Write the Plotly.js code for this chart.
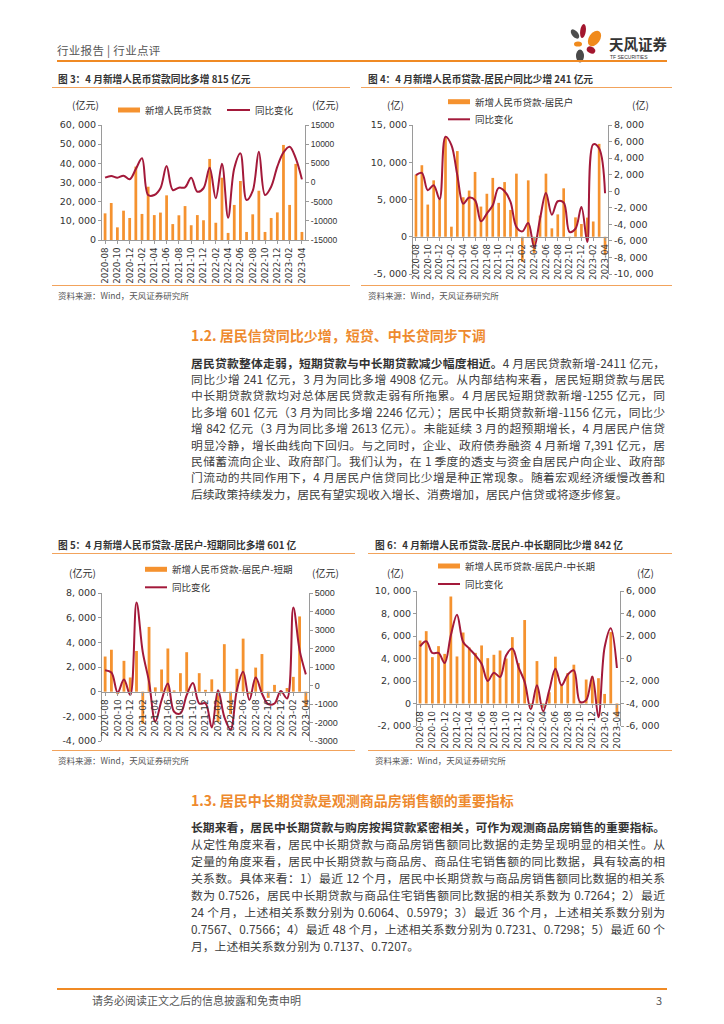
<!DOCTYPE html>
<html><head><meta charset="utf-8">
<script src="https://cdn.plot.ly/plotly-3.0.1.min.js"></script>
<style>
body{margin:0;background:#fff;}
#page{position:relative;width:724px;height:1024px;overflow:hidden;font-family:"Noto Sans CJK SC",sans-serif;background:#fff;}
.rule{position:absolute;height:0;border-top:1px solid #F2A35C;}
.bigrule{position:absolute;height:0;border-top:2px solid #F08A24;}
.ctitle{position:absolute;font-size:9.7px;font-weight:bold;color:#333;white-space:nowrap;line-height:12px;}
.src{position:absolute;font-size:8.5px;color:#555;white-space:nowrap;line-height:10px;}
.h2{position:absolute;left:191px;font-size:14px;font-weight:bold;color:#EE8A2E;white-space:nowrap;line-height:18px;}
.ln{position:absolute;left:191px;width:474px;font-size:11.8px;color:#404040;white-space:nowrap;text-align:justify;text-align-last:justify;line-height:14px;}
.ln.last{text-align-last:left;}
.ln b{color:#333;font-weight:700;}
.plot{position:absolute;}
</style></head>
<body><div id="page">
<svg style="position:absolute;left:0;top:0" width="724" height="70">
  <ellipse cx="583" cy="31" rx="2.8" ry="7" fill="#A3162E" transform="rotate(8 583 31)"/>
  <ellipse cx="594.5" cy="38.5" rx="5.5" ry="8.5" fill="#F08A1C" transform="rotate(35 594.5 38.5)"/>
  <ellipse cx="575" cy="34" rx="3" ry="5.5" fill="#4D4D4D" transform="rotate(-40 575 34)"/>
  <ellipse cx="578" cy="44" rx="4" ry="2.6" fill="#F08A1C"/>
  <ellipse cx="591" cy="50" rx="4.5" ry="3.3" fill="#A3162E" transform="rotate(30 591 50)"/>
  <ellipse cx="580" cy="56" rx="4" ry="6.5" fill="#4A4A4A"/>
  <text x="609" y="50" font-size="14.5" font-weight="bold" fill="#333" font-family="Noto Sans CJK SC">天风证券</text>
  <text x="610" y="58.5" font-size="5" fill="#333" font-family="Liberation Sans">TF SECURITIES</text>
</svg>
<div style="position:absolute;left:57px;top:43px;font-size:11.5px;color:#555;line-height:15px;white-space:nowrap;letter-spacing:0.3px;">行业报告 | 行业点评</div>
<div class="bigrule" style="left:57px;top:60px;width:610px;"></div>

<div class="ctitle" style="left:58px;top:73px;">图 3：4 月新增人民币贷款同比多增 815 亿元</div>
<div class="rule" style="left:52px;top:87px;width:298px;"></div>
<div class="rule" style="left:52px;top:285px;width:298px;"></div>
<div class="src" style="left:58px;top:290px;">资料来源：Wind，天风证券研究所</div>

<div class="ctitle" style="left:368px;top:73px;">图 4：4 月新增人民币贷款-居民户同比少增 241 亿元</div>
<div class="rule" style="left:361px;top:87px;width:311px;"></div>
<div class="rule" style="left:361px;top:285px;width:311px;"></div>
<div class="src" style="left:368px;top:290px;">资料来源：Wind，天风证券研究所</div>

<div class="h2" style="top:326px;">1.2. 居民信贷同比少增，短贷、中长贷同步下调</div>
<div class="ln" style="top:355.7px;"><b>居民贷款整体走弱，短期贷款与中长期贷款减少幅度相近。</b>4 月居民贷款新增-2411 亿元，</div>
<div class="ln" style="top:372.1px;">同比少增 241 亿元，3 月为同比多增 4908 亿元。从内部结构来看，居民短期贷款与居民</div>
<div class="ln" style="top:388.4px;">中长期贷款贷款均对总体居民贷款走弱有所拖累。4 月居民短期贷款新增-1255 亿元，同</div>
<div class="ln" style="top:404.8px;">比多增 601 亿元（3 月为同比多增 2246 亿元）；居民中长期贷款新增-1156 亿元，同比少</div>
<div class="ln" style="top:421.1px;">增 842 亿元（3 月为同比多增 2613 亿元）。未能延续 3 月的超预期增长，4 月居民户信贷</div>
<div class="ln" style="top:437.5px;">明显冷静，增长曲线向下回归。与之同时，企业、政府债券融资 4 月新增 7,391 亿元，居</div>
<div class="ln" style="top:453.8px;">民储蓄流向企业、政府部门。我们认为，在 1 季度的透支与资金自居民户向企业、政府部</div>
<div class="ln" style="top:470.2px;">门流动的共同作用下，4 月居民户信贷同比少增是种正常现象。随着宏观经济缓慢改善和</div>
<div class="ln last" style="top:486.5px;">后续政策持续发力，居民有望实现收入增长、消费增加，居民户信贷或将逐步修复。</div>

<div class="ctitle" style="left:58px;top:539px;">图 5：4 月新增人民币贷款-居民户-短期同比多增 601 亿</div>
<div class="rule" style="left:52px;top:553px;width:303px;"></div>
<div class="rule" style="left:52px;top:750px;width:303px;"></div>
<div class="src" style="left:58px;top:755px;">资料来源：Wind，天风证券研究所</div>

<div class="ctitle" style="left:375px;top:539px;">图 6：4 月新增人民币贷款-居民户-中长期同比少增 842 亿</div>
<div class="rule" style="left:368px;top:553px;width:304px;"></div>
<div class="rule" style="left:368px;top:750px;width:304px;"></div>
<div class="src" style="left:375px;top:755px;">资料来源：Wind，天风证券研究所</div>

<div class="h2" style="top:791px;">1.3. 居民中长期贷款是观测商品房销售额的重要指标</div>
<div class="ln" style="top:819.7px;letter-spacing:-0.15px;"><b>长期来看，居民中长期贷款与购房按揭贷款紧密相关，可作为观测商品房销售的重要指标。</b></div>
<div class="ln" style="top:836.8px;">从定性角度来看，居民中长期贷款与商品房销售额同比数据的走势呈现明显的相关性。从</div>
<div class="ln" style="top:853.9px;">定量的角度来看，居民中长期贷款与商品房、商品住宅销售额的同比数据，具有较高的相</div>
<div class="ln" style="top:871.0px;">关系数。具体来看：1）最近 12 个月，居民中长期贷款与商品房销售额同比数据的相关系</div>
<div class="ln" style="top:888.1px;">数为 0.7526，居民中长期贷款与商品住宅销售额同比数据的相关系数为 0.7264；2）最近</div>
<div class="ln" style="top:905.2px;">24 个月，上述相关系数分别为 0.6064、0.5979；3）最近 36 个月，上述相关系数分别为</div>
<div class="ln" style="top:922.3px;">0.7567、0.7566；4）最近 48 个月，上述相关系数分别为 0.7231、0.7298；5）最近 60 个</div>
<div class="ln last" style="top:939.4px;">月，上述相关系数分别为 0.7137、0.7207。</div>

<div class="bigrule" style="left:57px;top:988px;width:610px;"></div>
<div style="position:absolute;left:92px;top:993px;font-size:11px;color:#555;line-height:14px;white-space:nowrap;">请务必阅读正文之后的信息披露和免责申明</div>
<div style="position:absolute;left:656px;top:993px;font-size:11px;color:#555;line-height:14px;">3</div>

<div id="c3" class="plot"></div>
<div id="c4" class="plot"></div>
<div id="c5" class="plot"></div>
<div id="c6" class="plot"></div>
</div>
<script>
// ---------- data ----------
const months = ['2020-08','2020-09','2020-10','2020-11','2020-12','2021-01','2021-02','2021-03','2021-04','2021-05','2021-06','2021-07','2021-08','2021-09','2021-10','2021-11','2021-12','2022-01','2022-02','2022-03','2022-04','2022-05','2022-06','2022-07','2022-08','2022-09','2022-10','2022-11','2022-12','2023-01','2023-02','2023-03','2023-04'];
const monthTicks = ['2020-08','2020-10','2020-12','2021-02','2021-04','2021-06','2021-08','2021-10','2021-12','2022-02','2022-04','2022-06','2022-08','2022-10','2022-12','2023-02','2023-04'];

// Fig 3: new RMB loans (亿元) and YoY change
const loansTotal = [13900,19300,6600,15300,11500,38300,13600,27800,13000,14300,23300,8300,12900,17700,7700,13000,10300,42300,9000,32500,3700,18300,30800,4200,13400,25700,4200,11500,14400,49600,18300,39700,4200];
const loansTotalYoY = [1260,1700,1260,1780,830,3500,6300,-3260,-3260,-1500,4300,-1960,-1350,-1260,1260,-2400,-1500,3870,-4130,4900,-9170,3700,7600,-4570,-2200,8000,-3260,-1090,4130,7870,9350,6300,815];
// Fig 4: household loans
const loansHH = [8330,9600,4320,7570,5000,13400,1350,11500,5300,6200,8700,4050,5770,7900,4550,7340,3600,8470,-3369,7570,-2170,2840,8470,1130,3000,6500,-203,2600,1710,2570,2050,12470,-2411];
const loansHHYoY = [1940,2220,120,730,-970,6590,5580,1940,-1500,-770,-1090,-3640,-2700,-1700,400,0,-1290,-4320,-4850,-3840,-6750,-3310,-200,-2830,-1210,-1370,-4930,-4530,-1900,-6140,5660,5170,-241];
// Fig 5: household short-term
const loansShort = [2850,3400,-200,2500,1150,3300,-2600,5250,350,1800,3500,100,1500,3200,-50,1500,150,1000,-2460,3850,-1824,1850,4300,-200,1950,3050,-500,550,-150,300,1200,6100,-1255];
const loansShortYoY = [830,700,-380,320,-520,4490,1800,200,-1950,-800,110,-1420,-1510,-520,140,-970,-970,-2270,-250,-1700,-2380,-250,740,-790,430,-430,-1010,-970,-300,-700,4220,1910,601];
// Fig 6: household medium & long-term
const loansMid = [5600,6430,4120,5100,4410,9510,4180,6310,4980,4500,5160,4030,4330,4710,4000,5900,3590,7420,-459,3770,-417,1000,4160,1600,2700,3450,150,2130,2400,2250,850,6350,-1156];
const loansMidYoY = [1080,1530,490,490,-400,2060,3900,1470,880,280,-460,-2000,-1260,-1640,280,880,-760,-2080,-4510,-2380,-4690,-2830,-900,-2380,-1440,-1050,-3860,-3700,-1600,-5220,1000,2700,-842];

// tick values / labels
const c3LeftTicks = [0,10000,20000,30000,40000,50000,60000];
const c3LeftLabels = ['0','10, 000','20, 000','30, 000','40, 000','50, 000','60, 000'];
const c3RightTicks = [-15000,-10000,-5000,0,5000,10000,15000];
const c3RightLabels = ['-15000','-10000','-5000','0','5000','10000','15000'];
const c4LeftTicks = [-5000,0,5000,10000,15000];
const c4LeftLabels = ['-5, 000','0','5, 000','10, 000','15, 000'];
const c4RightTicks = [-10000,-8000,-6000,-4000,-2000,0,2000,4000,6000,8000];
const c4RightLabels = ['-10, 000','-8, 000','-6, 000','-4, 000','-2, 000','0','2, 000','4, 000','6, 000','8, 000'];
const c5LeftTicks = [-4000,-2000,0,2000,4000,6000,8000];
const c5LeftLabels = ['-4, 000','-2, 000','0','2, 000','4, 000','6, 000','8, 000'];
const c5RightTicks = [-3000,-2000,-1000,0,1000,2000,3000,4000,5000];
const c5RightLabels = ['-3000','-2000','-1000','0','1000','2000','3000','4000','5000'];
const c6LeftTicks = [-2000,0,2000,4000,6000,8000,10000];
const c6LeftLabels = ['-2, 000','0','2, 000','4, 000','6, 000','8, 000','10, 000'];
const c6RightTicks = [-6000,-4000,-2000,0,2000,4000,6000];
const c6RightLabels = ['-6, 000','-4, 000','-2, 000','0','2, 000','4, 000','6, 000'];

// ---------- drawing ----------
const BAR = '#F5922F', LINE = '#A3193A', AX = '#9A9A9A', TXT = '#333';
const CJK = 'Noto Sans CJK SC';

function drawChart(id, g, d) {
  const l = g.L - g.x, r = g.x + g.w - g.R, t = g.T - g.y, b = g.y + g.h - g.B;
  const px = X => (X - g.L) / (g.R - g.L);
  const py = Y => (g.B - Y) / (g.B - g.T);
  const el = document.getElementById(id);
  el.style.left = g.x + 'px'; el.style.top = g.y + 'px';
  el.style.width = g.w + 'px'; el.style.height = g.h + 'px';
  const traces = [
    {type:'bar', x: months, y: d.bars, name: d.barName, marker:{color: BAR}, yaxis:'y', hoverinfo:'skip'},
    {type:'scatter', mode:'lines', x: months, y: d.line, name:'同比变化',
     line:{color: LINE, width: 2, shape:'spline', smoothing: 1}, yaxis:'y2', cliponaxis:false}
  ];
  const xpos = (0 - d.yl[0]) / (d.yl[1] - d.yl[0]);
  const lf = {family:'DejaVu Sans', size:9.5, color:TXT};
  const lg = d.legend;
  const layout = {
    width: g.w, height: g.h, margin:{l:l, r:r, t:t, b:b, pad:0},
    paper_bgcolor:'rgba(0,0,0,0)', plot_bgcolor:'rgba(0,0,0,0)',
    showlegend:false, bargap:0.55,
    font:{family: CJK, color: TXT},
    xaxis:{type:'category', range:[-0.5, months.length - 0.5], tickmode:'array',
      tickvals: monthTicks, ticktext: monthTicks, tickangle:-90,
      tickfont:{family:'DejaVu Sans', size:d.xfs, color:TXT},
      showline:true, linecolor:AX, linewidth:1, ticks:'outside', ticklen:3, tickcolor:AX,
      showgrid:false, zeroline:false, automargin:false,
      anchor: xpos > 0 ? 'free' : 'y', position: xpos},
    yaxis:{range:d.yl, tickmode:'array', tickvals:d.ylt, ticktext:d.yll, tickfont:lf,
      showline:true, linecolor:AX, linewidth:1, ticks:'outside', ticklen:3, tickcolor:AX,
      showgrid:false, zeroline:false, automargin:false, anchor:'x'},
    yaxis2:{overlaying:'y', side:'right', anchor:'x', range:d.yr, tickmode:'array',
      tickvals:d.yrt, ticktext:d.yrl, tickfont:d.rfont || lf,
      showline:true, linecolor:AX, linewidth:1, ticks:'outside', ticklen:3, tickcolor:AX,
      showgrid:false, zeroline:false, automargin:false},
    shapes:[
      {type:'rect', xref:'paper', yref:'paper', x0:px(lg.b[0]), x1:px(lg.b[1]), y0:py(lg.b[2]-2.5), y1:py(lg.b[2]+2.5), fillcolor:BAR, line:{width:0}},
      {type:'line', xref:'paper', yref:'paper', x0:px(lg.l[0]), x1:px(lg.l[1]), y0:py(lg.l[2]), y1:py(lg.l[2]), line:{color:LINE, width:2}}
    ],
    annotations:[
      {xref:'paper', yref:'paper', x:px(lg.b[1]+3), y:py(lg.b[2]), text:d.barName, showarrow:false, xanchor:'left', yanchor:'middle', font:{family:CJK, size:9.5, color:TXT}},
      {xref:'paper', yref:'paper', x:px(lg.l[1]+3), y:py(lg.l[2]), text:'同比变化', showarrow:false, xanchor:'left', yanchor:'middle', font:{family:CJK, size:9.5, color:TXT}},
      {xref:'paper', yref:'paper', x:px(d.unitL[0]), y:py(d.unitL[1]), text:d.unit, showarrow:false, xanchor:'center', yanchor:'middle', font:{family:CJK, size:10, color:TXT}},
      {xref:'paper', yref:'paper', x:px(d.unitR[0]), y:py(d.unitR[1]), text:d.unit, showarrow:false, xanchor:'center', yanchor:'middle', font:{family:CJK, size:10, color:TXT}}
    ]
  };
  Plotly.newPlot(el, traces, layout, {staticPlot:true, displayModeBar:false});
}

drawChart('c3', {x:52, y:88, w:298, h:210, L:102, R:305, T:125, B:240}, {
  bars: loansTotal, line: loansTotalYoY, barName:'新增人民币贷款', unit:'(亿元)',
  yl:[0,60000], ylt:c3LeftTicks, yll:c3LeftLabels,
  yr:[-15000,15000], yrt:c3RightTicks, yrl:c3RightLabels,
  rfont:{family:'Liberation Sans', size:8.5, color:TXT}, xfs:8.7,
  legend:{b:[118,140,110], l:[227,250,110]}, unitL:[85,105], unitR:[325,105]
});
drawChart('c4', {x:361, y:88, w:311, h:205, L:413, R:608, T:125, B:274}, {
  bars: loansHH, line: loansHHYoY, barName:'新增人民币贷款-居民户', unit:'(亿)',
  yl:[-5000,15000], ylt:c4LeftTicks, yll:c4LeftLabels,
  yr:[-10000,8000], yrt:c4RightTicks, yrl:c4RightLabels, xfs:8.5,
  legend:{b:[448,470,101.7], l:[448,470,119.3]}, unitL:[395,105], unitR:[640,105]
});
drawChart('c5', {x:52, y:555, w:303, h:205, L:102, R:309, T:593, B:741}, {
  bars: loansShort, line: loansShortYoY, barName:'新增人民币贷款-居民户-短期', unit:'(亿元)',
  yl:[-4000,8000], ylt:c5LeftTicks, yll:c5LeftLabels,
  yr:[-3000,5000], yrt:c5RightTicks, yrl:c5RightLabels,
  rfont:{family:'Liberation Sans', size:9, color:TXT}, xfs:9,
  legend:{b:[145,167,569.3], l:[145,167,587.3]}, unitL:[82,572.7], unitR:[325,572.7]
});
drawChart('c6', {x:368, y:555, w:304, h:205, L:417, R:620, T:591, B:726}, {
  bars: loansMid, line: loansMidYoY, barName:'新增人民币贷款-居民户-中长期', unit:'(亿)',
  yl:[-2000,10000], ylt:c6LeftTicks, yll:c6LeftLabels,
  yr:[-6000,6000], yrt:c6RightTicks, yrl:c6RightLabels, xfs:9,
  legend:{b:[438,460,566], l:[438,460,584]}, unitL:[395,572.7], unitR:[645,572.7]
});
</script>
</body></html>
